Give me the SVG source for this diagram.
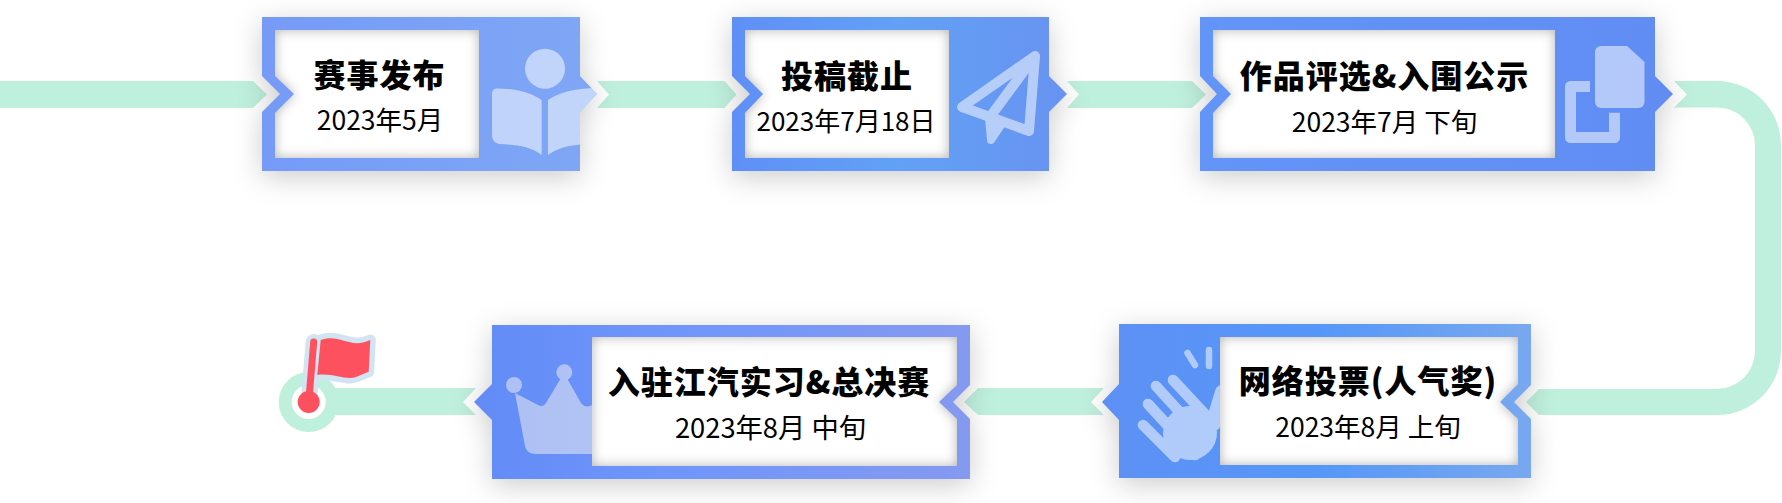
<svg xmlns="http://www.w3.org/2000/svg" width="1782" height="503" viewBox="0 0 1782 503">
<style>
.band{fill:#bff0dd}
.t{font-family:"Noto Sans CJK SC","Noto Sans",sans-serif;font-weight:900;font-size:32px;letter-spacing:1px;text-anchor:middle;fill:#000}
.s{font-family:"Noto Sans CJK SC","Noto Sans",sans-serif;font-weight:400;font-size:26.500px;text-anchor:middle;fill:#000}
.panel{fill:#fff;filter:url(#inset)}
.box{filter:url(#drop)}
.ic{fill:#fff;opacity:.52}
.icg{fill:#fff;stroke:#fff;opacity:.52;stroke-linecap:round;stroke-linejoin:round}
.ics{fill:none;stroke:#fff;opacity:.52;stroke-linecap:round;stroke-linejoin:round}
</style>
<defs>
<filter id="drop" x="-20%" y="-40%" width="140%" height="180%" color-interpolation-filters="sRGB"><feDropShadow dx="0" dy="6" stdDeviation="14" flood-color="#000" flood-opacity=".2"/></filter>
<filter id="inset" x="-8%" y="-15%" width="116%" height="130%" color-interpolation-filters="sRGB">
<feFlood flood-color="#000" flood-opacity=".3"/><feComposite in2="SourceAlpha" operator="out"/><feGaussianBlur stdDeviation="6"/><feComposite in2="SourceAlpha" operator="in" result="s"/>
<feMerge><feMergeNode in="SourceGraphic"/><feMergeNode in="s"/></feMerge></filter>
<linearGradient id="g1" x1="0" x2="1" y1="0" y2="0"><stop offset="0" stop-color="#759bf7"/><stop offset="1" stop-color="#7fa7f5"/></linearGradient>
<linearGradient id="g2" x1="0" x2="1" y1="0" y2="0"><stop offset="0" stop-color="#5f8ff6"/><stop offset=".5" stop-color="#62a1f6"/><stop offset="1" stop-color="#6893f0"/></linearGradient>
<linearGradient id="g3" x1="0" x2="1" y1="0" y2="0"><stop offset="0" stop-color="#6394f8"/><stop offset="1" stop-color="#618df3"/></linearGradient>
<linearGradient id="g4" x1="0" x2="1" y1="0" y2="0"><stop offset="0" stop-color="#628bf6"/><stop offset=".4" stop-color="#7096fb"/><stop offset="1" stop-color="#8599f0"/></linearGradient>
<linearGradient id="g5" x1="0" x2="1" y1="0" y2="0"><stop offset="0" stop-color="#5e90f4"/><stop offset=".5" stop-color="#5597f8"/><stop offset="1" stop-color="#78a8ef"/></linearGradient>
<clipPath id="c1"><path d="M262,17H580V76L597,94L580,112V171H262Z"/></clipPath>
</defs>

<g id="connectors">
<path class="band" d="M0,81H253L267,94.500L253,108H0Z"/>
<path class="band" d="M597,81H724.500L736.500,94.500L724.500,108H597L609,94.500Z"/>
<path class="band" d="M1067,81H1192L1206,94.500L1192,108H1067L1079,94.500Z"/>
<path class="band" d="M1674,81H1717A64,64 0 0 1 1781,145V351A64,64 0 0 1 1717,415H1539L1526,402L1539,389H1717A38,38 0 0 0 1755,351V145A38,38 0 0 0 1717,107.500H1674L1687,94.500Z"/>
<path class="band" d="M1104,388H978L964,402L978,415H1104L1091,402Z"/>
<path class="band" d="M476,388H330V415H476L463,402Z"/>
</g>

<g id="node-1">
<path class="box" fill="url(#g1)" d="M262,17H580V76L597,94L580,112V171H262V112L280,94L262,76Z"/>
<path class="panel" d="M275,30H479V158H275V113L294,94L275,76Z"/>
<g clip-path="url(#c1)"><ellipse class="ic" cx="545" cy="68.700" rx="20" ry="20"/>
<path class="ic" d="M498,88.500C515,88.500 530,92 541.700,100V155C530,146 515,145 500,144C495,143.500 492,140 492,135V94C492,90 494,88.500 498,88.500Z"/>
<path class="ic" d="M548,100C560,92 575,88 600,88V144C575,144 560,146 548,155Z"/></g>
<text class="t" x="379.500" y="87">赛事发布</text>
<text class="s" x="380" y="130">2023年5月</text>
</g>

<g id="node-2">
<path class="box" fill="url(#g2)" d="M732,17H1049V76L1067,94L1049,112V171H732V112L750,94L732,76Z"/>
<path class="panel" d="M745,30H949V158H745V113L763,94L745,76Z"/>
<g class="ics" stroke-width="10"><path d="M1035,56L962,107L1029,131ZM1035,56L990,117"/><path style="fill:#fff;stroke-width:8" d="M989,118L991,140L1003,122Z"/></g>
<text class="t" x="847" y="88">投稿截止</text>
<text class="s" style="font-size:26px" x="846" y="131">2023年7月18日</text>
</g>

<g id="node-3">
<path class="box" fill="url(#g3)" d="M1200,17H1655V76L1673,94L1655,112V171H1200V112L1217,94L1200,76Z"/>
<path class="panel" d="M1213,30H1555V158H1213V113L1231,94L1213,76Z"/>
<path class="ic" d="M1601,46H1627L1644.500,62V102A6,6 0 0 1 1638.500,108H1601A6,6 0 0 1 1595,102V52A6,6 0 0 1 1601,46Z"/>
<path class="ics" stroke-width="11" style="stroke-linecap:butt" d="M1590,86.500H1570.500V137.500H1614.500V112.700"/>
<text class="t" x="1384.500" y="88">作品评选&amp;入围公示</text>
<text class="s" x="1384.500" y="132">2023年7月 下旬</text>
</g>

<g id="node-4">
<path class="box" fill="url(#g4)" d="M492,325H970V385L953,402L970,419V479H492V420L474,402L492,384Z"/>
<g class="icg" style="stroke:none;fill:#f3f1f2"><circle cx="514" cy="385" r="8"/>
<circle cx="564.300" cy="372.300" r="8"/>
<path d="M515,393L538,405C541,407 544,406 546,403L564,373L581,403C583,406 586,407 590,406L614,395V454H536C530,454 526,451 525,446Z"/></g>
<path class="panel" d="M592,337H957V385L939,402L957,419V466H592Z"/>
<text class="t" x="769" y="394">入驻江汽实习&amp;总决赛</text>
<text class="s" style="font-size:27.300px" x="770.500" y="438">2023年8月 中旬</text>
</g>

<g id="node-5">
<path class="box" fill="url(#g5)" d="M1119,324H1531V385L1514,402L1531,419V478H1119V420L1102,402L1119,384Z"/>
<g class="icg"><path fill="none" stroke-width="10.700" d="M1143,425L1175,457M1148,404L1195,455M1156,386L1205,440M1173,380L1215,425"/>
<circle cx="1190" cy="433" r="27" style="stroke:none"/>
<path stroke-width="14" d="M1222,392L1212,425"/></g>
<path class="ics" stroke-width="6.500" d="M1187.500,353L1195,365M1209,350V366"/>
<path class="panel" d="M1220,337H1518V384L1500,402L1518,419V465H1220Z"/>
<text class="t" x="1368" y="393">网络投票(人气奖)</text>
<text class="s" x="1368" y="437">2023年8月 上旬</text>
</g>

<g id="end-flag">
<circle cx="308.700" cy="402" r="30" fill="#bff0dd"/>
<circle cx="308.700" cy="402" r="17" fill="#fff"/>
<path fill="none" stroke="#d2e3f2" stroke-width="16" stroke-linecap="round" d="M313.700,342L308.700,402"/>
<path fill="#d2e3f2" stroke="#d2e3f2" stroke-width="11" stroke-linejoin="round" d="M320.700,340C335,335 345,343 357,343.300C362,343 366,342 370.300,340L368.700,371.700C362,374 356,378 350,378C340,378 330,373 317.300,375Z"/>
<path fill="none" stroke="#fe5160" stroke-width="7" stroke-linecap="round" d="M313.700,342L308.700,402"/>
<path fill="#fe5160" d="M320.700,340C335,335 345,343 357,343.300C362,343 366,342 370.300,340L368.700,371.700C362,374 356,378 350,378C340,378 330,373 317.300,375Z"/>
<circle cx="308.700" cy="402" r="11" fill="#fe5160"/>
</g>
</svg>
